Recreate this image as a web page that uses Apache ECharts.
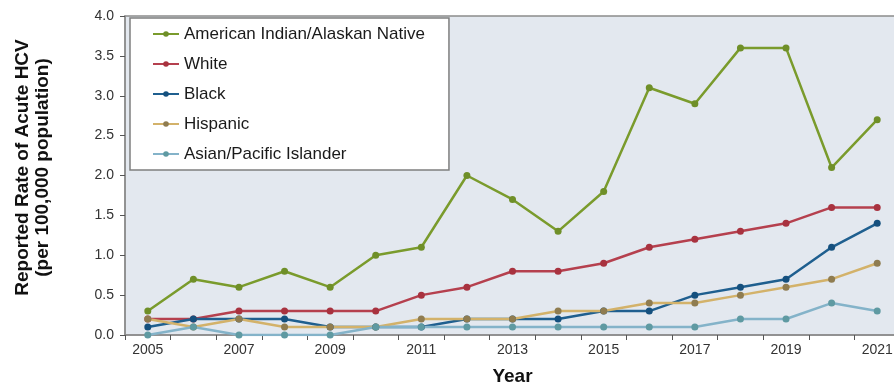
<!DOCTYPE html>
<html>
<head>
<meta charset="utf-8">
<script src="https://cdn.jsdelivr.net/npm/echarts@6/dist/echarts.min.js"></script>
<style>
html, body { margin: 0; padding: 0; background: #fff; }
#main { width: 894px; height: 384px; }
</style>
</head>
<body>
<div id="main"></div>
<script>
var years = ['2005', '2006', '2007', '2008', '2009', '2010', '2011', '2012', '2013',
             '2014', '2015', '2016', '2017', '2018', '2019', '2020', '2021'];

var aian     = [0.3, 0.7, 0.6, 0.8, 0.6, 1.0, 1.1, 2.0, 1.7, 1.3, 1.8, 3.1, 2.9, 3.6, 3.6, 2.1, 2.7];
var white    = [0.2, 0.2, 0.3, 0.3, 0.3, 0.3, 0.5, 0.6, 0.8, 0.8, 0.9, 1.1, 1.2, 1.3, 1.4, 1.6, 1.6];
var black    = [0.1, 0.2, 0.2, 0.2, 0.1, 0.1, 0.1, 0.2, 0.2, 0.2, 0.3, 0.3, 0.5, 0.6, 0.7, 1.1, 1.4];
var hispanic = [0.2, 0.1, 0.2, 0.1, 0.1, 0.1, 0.2, 0.2, 0.2, 0.3, 0.3, 0.4, 0.4, 0.5, 0.6, 0.7, 0.9];
var asianPI  = [0.0, 0.1, 0.0, 0.0, 0.0, 0.1, 0.1, 0.1, 0.1, 0.1, 0.1, 0.1, 0.1, 0.2, 0.2, 0.4, 0.3];

var myChart = echarts.init(document.getElementById('main'));

function makeSeries(name, data, lineColor, dotColor) {
    return {
        name: name,
        type: 'line',
        data: data,
        symbol: 'circle',
        symbolSize: 7,
        lineStyle: { color: lineColor, width: 2.5 },
        itemStyle: { color: dotColor, borderWidth: 0 },
        emphasis: { disabled: true }
    };
}

var option = {
    animation: false,
    textStyle: { fontFamily: 'Liberation Sans, Arial, sans-serif' },
    grid: {
        left: 125,
        right: -6,
        top: 16,
        bottom: 49,
        outerBoundsMode: 'none',
        show: true,
        backgroundColor: '#e3e8ef',
        borderColor: '#8c8c8c',
        borderWidth: 1.5
    },
    legend: {
        orient: 'vertical',
        left: 130,
        top: 18,
        padding: [7, 24, 7, 22],
        itemGap: 12,
        itemWidth: 26,
        itemHeight: 7,
        backgroundColor: '#ffffff',
        borderColor: '#7f7f7f',
        borderWidth: 1.5,
        textStyle: { fontSize: 17, color: '#1a1a1a', lineHeight: 18 },
        data: ['American Indian/Alaskan Native', 'White', 'Black', 'Hispanic', 'Asian/Pacific Islander']
    },
    xAxis: {
        type: 'category',
        data: years,
        boundaryGap: true,
        name: 'Year',
        nameLocation: 'middle',
        nameGap: 32,
        nameTextStyle: { fontSize: 19, fontWeight: 'bold', color: '#111' },
        axisLine: { lineStyle: { color: '#8c8c8c', width: 1.5 } },
        axisTick: { show: true, interval: 0, length: 5, lineStyle: { color: '#555' } },
        axisLabel: { interval: 1, fontSize: 14, color: '#333', margin: 8 },
        splitLine: { show: false }
    },
    yAxis: {
        type: 'value',
        min: 0,
        max: 4,
        interval: 0.5,
        name: 'Reported Rate of Acute HCV\n(per 100,000 population)',
        nameLocation: 'middle',
        nameGap: 72,
        nameTextStyle: {
            fontSize: 19, fontWeight: 'bold', color: '#111', lineHeight: 20,
            padding: [0, 0, 0, 16]
        },
        axisLine: { show: true, lineStyle: { color: '#8c8c8c', width: 1.5 } },
        axisTick: { show: true, length: 5, lineStyle: { color: '#555' } },
        axisLabel: {
            fontSize: 14, color: '#333', margin: 11,
            formatter: function (v) { return v.toFixed(1); }
        },
        splitLine: { show: false }
    },
    series: [
        makeSeries('American Indian/Alaskan Native', aian, '#7a9b2c', '#6f8f28'),
        makeSeries('White', white, '#b5404e', '#a8323f'),
        makeSeries('Black', black, '#1f5f8f', '#15507e'),
        makeSeries('Hispanic', hispanic, '#d3b26a', '#8f7c50'),
        makeSeries('Asian/Pacific Islander', asianPI, '#84b3c9', '#5f9aa2')
    ]
};

myChart.setOption(option);

window.onresize = function () {
    myChart.resize();
};
</script>
</body>
</html>
